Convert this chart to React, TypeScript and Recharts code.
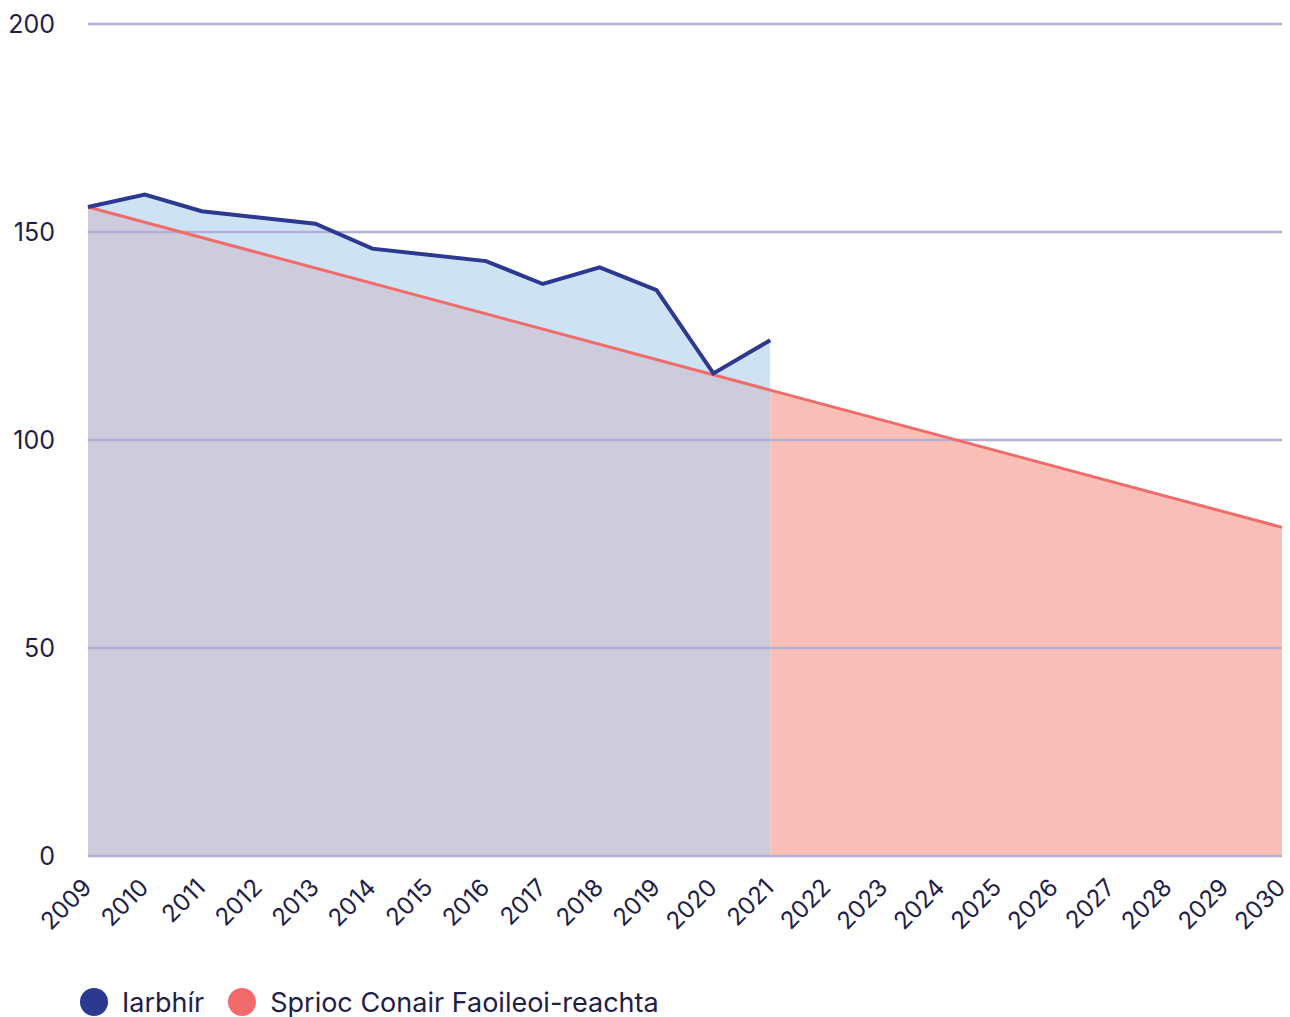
import React from "react";
import { ComposedChart, Area, Line, XAxis, YAxis, CartesianGrid, Legend } from "recharts";

// years on the x axis
const years = [2009, 2010, 2011, 2012, 2013, 2014, 2015, 2016, 2017, 2018, 2019,
    2020, 2021, 2022, 2023, 2024, 2025, 2026, 2027, 2028, 2029, 2030];

// Iarbhír (actual), no point drawn for 2012 and 2015
const actual = [156, 159, 155, null, 152, 146, null, 143, 137.5, 141.5, 136,
    116, 124, null, null, null, null, null, null, null, null, null];

// Sprioc (target path), straight line 2009 -> 2021 -> 2030
const target = [156, null, null, null, null, null, null, null, null, null, null,
    null, 112, null, null, null, null, null, null, null, null, 79];

const yTicks = [0, 50, 100, 150, 200];
const seriesNames = ["Iarbhír", "Sprioc Conair Faoileoi-reachta"];
const lastActualYear = 2021;

const BLUE = "#2b3990";
const BLUE_FILL = "#cfe2f3";
const RED = "#f26b6b";
const GREY_FILL = "#cecbdc";
const PINK_FILL = "#f9bfb7";
const GRID = "#b3aed6";
const TEXT = "#1e2048";
const FONT = "Inter, sans-serif";

const data = years.map((year, i) => ({
    year,
    actual: actual[i],
    target: target[i],
    targetPast: year <= lastActualYear ? target[i] : null,
    targetFuture: year >= lastActualYear ? target[i] : null,
}));

const YearTick = (props: any) => {
    const { x, y, payload } = props;
    const tx = x + 5;
    const ty = y + 33;
    return (
        <text x={tx} y={ty} transform={`rotate(-45, ${tx}, ${ty})`} textAnchor="end"
            fill={TEXT} fontSize={24} fontFamily={FONT}>
            {payload.value}
        </text>
    );
};

const legendColors = [BLUE, RED];

const renderLegend = () => (
    <div style={{ display: "flex", alignItems: "center", height: 30, fontFamily: FONT, fontSize: 27, color: TEXT }}>
        {seriesNames.map((name, i) => (
            <span key={name} style={{ display: "flex", alignItems: "center", marginRight: 24 }}>
                <span style={{ display: "inline-block", width: 28, height: 28, borderRadius: 14, background: legendColors[i], marginRight: 14 }} />
                {name}
            </span>
        ))}
    </div>
);

export default function App() {
    return (
        <div>
            <style>{"body{margin:0}"}</style>
            <ComposedChart width={1290} height={1017} data={data}
                margin={{ top: 24, right: 8, left: 8, bottom: 0 }}
                style={{ fontFamily: FONT }}>
                <XAxis dataKey="year" type="number" domain={[2009, 2030]} ticks={years} interval={0}
                    axisLine={false} tickLine={false} tickSize={0} tickMargin={0} height={131}
                    tick={<YearTick />} />
                <YAxis domain={[0, 200]} ticks={yTicks} axisLine={false} tickLine={false}
                    tickSize={0} tickMargin={33} width={80}
                    tick={{ fill: TEXT, fontSize: 25, fontFamily: FONT }} />
                <Area dataKey="actual" type="linear" connectNulls stroke="none" fill={BLUE_FILL}
                    fillOpacity={1} isAnimationActive={false} legendType="none" activeDot={false} />
                <Area dataKey="targetPast" type="linear" connectNulls stroke="none" fill={GREY_FILL}
                    fillOpacity={1} isAnimationActive={false} legendType="none" activeDot={false} />
                <Area dataKey="targetFuture" type="linear" connectNulls stroke="none" fill={PINK_FILL}
                    fillOpacity={1} isAnimationActive={false} legendType="none" activeDot={false} />
                <CartesianGrid vertical={false} stroke={GRID} strokeWidth={2.5} {...({ zIndex: 150 } as any)} />
                <Line dataKey="target" type="linear" connectNulls stroke={RED} strokeWidth={3}
                    dot={false} activeDot={false} isAnimationActive={false} name={seriesNames[1]} />
                <Line dataKey="actual" type="linear" connectNulls stroke={BLUE} strokeWidth={4}
                    dot={false} activeDot={false} isAnimationActive={false} name={seriesNames[0]} />
                <Legend verticalAlign="bottom" align="left" content={renderLegend}
                    wrapperStyle={{ left: 80, bottom: 0, width: "auto" }} />
            </ComposedChart>
        </div>
    );
}
